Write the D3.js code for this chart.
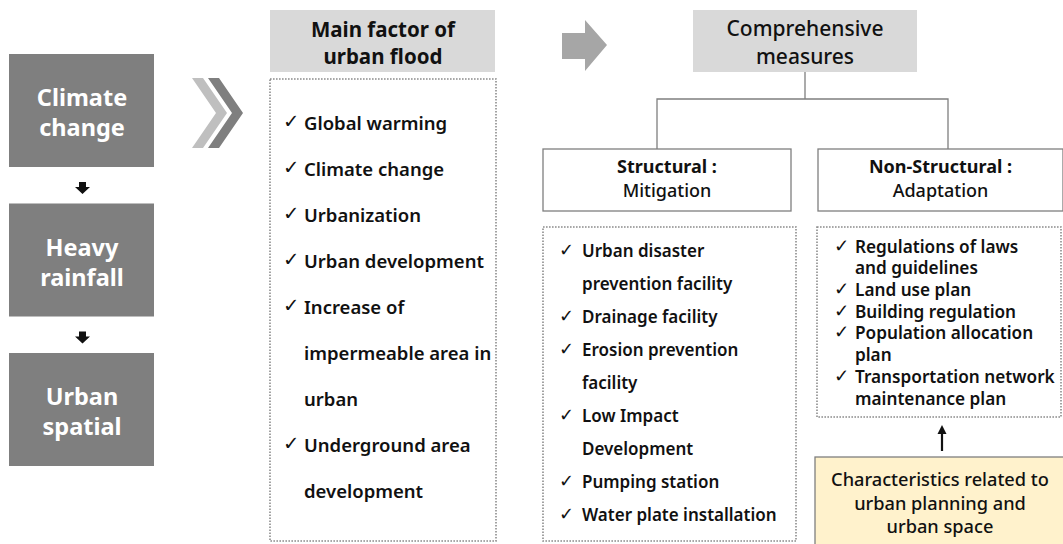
<!DOCTYPE html>
<html>
<head>
<meta charset="utf-8">
<script src="https://cdn.jsdelivr.net/npm/d3@7"></script>
<style>
  body { margin: 0; background: #fff; }
  svg { display: block; font-family: "Noto Sans", "Open Sans", sans-serif; }
</style>
</head>
<body>
<div id="chart"></div>
<script>
// ---------------- DATA ----------------
const causeSteps = [["Climate", "change"], ["Heavy", "rainfall"], ["Urban", "spatial"]];
const factorTitle = ["Main factor of", "urban flood"];
const factorLines = [
  {t: "Global warming", check: true},
  {t: "Climate change", check: true},
  {t: "Urbanization", check: true},
  {t: "Urban development", check: true},
  {t: "Increase of", check: true},
  {t: "impermeable area in", check: false},
  {t: "urban", check: false},
  {t: "Underground area", check: true},
  {t: "development", check: false}
];
const measureTitle = ["Comprehensive", "measures"];
const branchTitles = [["Structural :", "Mitigation"], ["Non-Structural :", "Adaptation"]];
const structuralLines = [
  {t: "Urban disaster", check: true},
  {t: "prevention facility", check: false},
  {t: "Drainage facility", check: true},
  {t: "Erosion prevention", check: true},
  {t: "facility", check: false},
  {t: "Low Impact", check: true},
  {t: "Development", check: false},
  {t: "Pumping station", check: true},
  {t: "Water plate installation", check: true}
];
const nonStructuralLines = [
  {t: "Regulations of laws", check: true},
  {t: "and guidelines", check: false},
  {t: "Land use plan", check: true},
  {t: "Building regulation", check: true},
  {t: "Population allocation", check: true},
  {t: "plan", check: false},
  {t: "Transportation network", check: true},
  {t: "maintenance plan", check: false}
];
const planningNote = ["Characteristics related to", "urban planning and", "urban space"];

// ---------------- SETUP ----------------
const width = 1063, height = 544;
const svg = d3.select("#chart").append("svg")
  .attr("width", width).attr("height", height)
  .attr("viewBox", `0 0 ${width} ${height}`);

const dotted = g => g.attr("fill", "#fff").attr("stroke", "#8c8c8c")
  .attr("stroke-width", 1.6).attr("stroke-dasharray", "1.6,1.4");

function textLines(sel, lines, x, yScale, opts) {
  sel.selectAll(null).data(lines).enter().append("text")
    .attr("x", x)
    .attr("y", (d, i) => yScale(i))
    .attr("text-anchor", opts.anchor || "middle")
    .attr("dominant-baseline", "central")
    .style("font-size", opts.size + "px")
    .style("font-weight", (d, i) => typeof opts.weight === "function" ? opts.weight(i) : opts.weight)
    .attr("fill", opts.color || "#111")
    .text(d => d);
}

function checkList(lines, checkX, textX, yScale, size) {
  const g = svg.append("g");
  g.selectAll(".chk").data(lines.map((d, i) => ({...d, i})).filter(d => d.check))
    .enter().append("text")
    .attr("x", checkX).attr("y", d => yScale(d.i) - 1)
    .attr("dominant-baseline", "central")
    .style("font-family", "DejaVu Sans")
    .style("font-size", (size + 1) + "px")
    .attr("fill", "#111")
    .text("\u2713");
  g.selectAll(".itm").data(lines).enter().append("text")
    .attr("x", textX).attr("y", (d, i) => yScale(i))
    .attr("dominant-baseline", "central")
    .style("font-size", size + "px")
    .style("font-weight", 600)
    .attr("fill", "#111")
    .text(d => d.t);
}

// ---------------- LEFT COLUMN ----------------
const stepY = d3.scaleLinear().domain([0, 2]).range([54, 353]);
const stepH = 113;
causeSteps.forEach((s, i) => {
  const y0 = stepY(i);
  svg.append("rect").attr("x", 9).attr("y", y0).attr("width", 145).attr("height", stepH)
    .attr("fill", "#7f7f7f");
  const ly = d3.scaleLinear().domain([0, 1]).range([y0 + 43, y0 + 73]);
  textLines(svg.append("g"), s, 82, ly, {size: 23.5, weight: 700, color: "#fff"});
  if (i < causeSteps.length - 1) {
    const a = y0 + stepH + 15;
    svg.append("path")
      .attr("d", `M79,${a} H86 V${a + 5} H90 L82.5,${a + 12} L75,${a + 5} H79 Z`)
      .attr("fill", "#111");
  }
});

// chevrons
const chev = (x0) => `M${x0},78 H${x0 + 11} L${x0 + 35},113 L${x0 + 11},148 H${x0} L${x0 + 24},113 Z`;
svg.append("path").attr("d", chev(192)).attr("fill", "#bfbfbf");
svg.append("path").attr("d", chev(208)).attr("fill", "#7f7f7f");

// ---------------- MAIN FACTOR ----------------
svg.append("rect").attr("x", 270).attr("y", 10).attr("width", 225).attr("height", 62).attr("fill", "#d9d9d9");
textLines(svg.append("g"), factorTitle, 383, d3.scaleLinear().domain([0, 1]).range([29, 56]),
  {size: 20.5, weight: 700});
svg.append("rect").attr("x", 270).attr("y", 79).attr("width", 226).attr("height", 462).call(dotted);
checkList(factorLines, 283, 304, d3.scaleLinear().domain([0, 8]).range([122, 490]), 18.5);

// block arrow
svg.append("path").attr("d", "M562,33 H585 V20 L607,45 L585,71 V59 H562 Z").attr("fill", "#a6a6a6");

// ---------------- COMPREHENSIVE MEASURES ----------------
svg.append("rect").attr("x", 693).attr("y", 10).attr("width", 224).attr("height", 62).attr("fill", "#d9d9d9");
textLines(svg.append("g"), measureTitle, 805, d3.scaleLinear().domain([0, 1]).range([28, 56]),
  {size: 21, weight: 500});

const branchX = [543, 818], branchW = [248, 245];
const tree = svg.append("g").attr("fill", "none").attr("stroke", "#7f7f7f").attr("stroke-width", 1.3);
tree.append("path").attr("d", `M805,72 V99 M657,149 V99 H948 V149`);

branchTitles.forEach((b, i) => {
  svg.append("rect").attr("x", branchX[i]).attr("y", 149).attr("width", branchW[i]).attr("height", 62)
    .attr("fill", "#fff").attr("stroke", "#7f7f7f").attr("stroke-width", 1.3);
  textLines(svg.append("g"), b, branchX[i] + branchW[i] / 2,
    d3.scaleLinear().domain([0, 1]).range([166, 190]),
    {size: 18, weight: j => j === 0 ? 700 : 500});
});

// structural list
svg.append("rect").attr("x", 543).attr("y", 227).attr("width", 253).attr("height", 314).call(dotted);
checkList(structuralLines, 559, 582, d3.scaleLinear().domain([0, 8]).range([250, 514]), 17);

// non-structural list
svg.append("rect").attr("x", 817).attr("y", 227).attr("width", 244).attr("height", 190).call(dotted);
checkList(nonStructuralLines, 834, 855, d3.scaleLinear().domain([0, 7]).range([246, 398]), 17.2);

// up arrow
svg.append("path").attr("d", "M942,451 V432").attr("stroke", "#111").attr("stroke-width", 2.2);
svg.append("path").attr("d", "M937.5,434 L942,425 L946.5,434 Z").attr("fill", "#111");

// planning note
svg.append("rect").attr("x", 815).attr("y", 457).attr("width", 250).attr("height", 90)
  .attr("fill", "#fff2cc").attr("stroke", "#7f7f7f").attr("stroke-width", 1.3);
textLines(svg.append("g"), planningNote, 940, d3.scaleLinear().domain([0, 2]).range([479, 526]),
  {size: 18.2, weight: 500});
</script>
</body>
</html>
